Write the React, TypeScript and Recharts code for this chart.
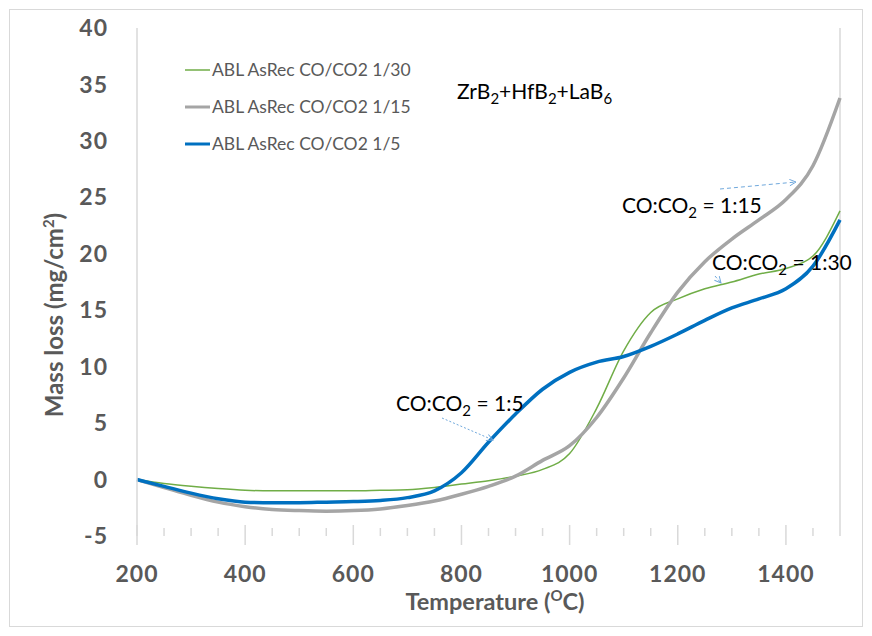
import { LineChart, Line, XAxis, YAxis, ReferenceLine } from "recharts";

// Temperature grid (°C) and mass loss (mg/cm²) for each CO:CO2 ratio
const temperatures = [
  200, 250, 300, 350, 400, 450, 500, 550, 600, 650, 700, 750, 800, 850, 900,
  950, 1000, 1050, 1100, 1150, 1200, 1250, 1300, 1350, 1400, 1450, 1500,
];
const lossRatio30 = [
  0, -0.35, -0.6, -0.8, -0.95, -1.0, -1.0, -1.0, -1.0, -0.95, -0.9, -0.7, -0.4,
  -0.1, 0.3, 0.9, 2.3, 6.3, 11.4, 14.8, 16.0, 16.9, 17.5, 18.2, 18.7, 19.8, 23.8,
];
const lossRatio15 = [
  0, -0.7, -1.4, -2.0, -2.4, -2.65, -2.75, -2.8, -2.75, -2.6, -2.3, -1.9, -1.3,
  -0.6, 0.3, 1.7, 3.0, 5.5, 9.0, 13.0, 16.6, 19.3, 21.3, 23.0, 24.8, 27.8, 33.8,
];
const lossRatio5 = [
  0, -0.6, -1.2, -1.7, -2.0, -2.05, -2.05, -2.0, -1.95, -1.85, -1.6, -1.0, 0.6,
  3.3, 5.8, 8.0, 9.5, 10.4, 10.9, 11.8, 12.9, 14.1, 15.2, 16.0, 16.9, 18.9, 23.0,
];
const seriesNames = [
  "ABL AsRec CO/CO2 1/30",
  "ABL AsRec CO/CO2 1/15",
  "ABL AsRec CO/CO2 1/5",
];
const xTicks = [
  200, 250, 300, 350, 400, 450, 500, 550, 600, 650, 700, 750, 800, 850, 900,
  950, 1000, 1050, 1100, 1150, 1200, 1250, 1300, 1350, 1400, 1450,
];
const yTicks = [-5, 0, 5, 10, 15, 20, 25, 30, 35, 40];

const data = temperatures.map((t, i) => ({
  t,
  r30: lossRatio30[i],
  r15: lossRatio15[i],
  r5: lossRatio5[i],
}));

const series = [
  { key: "r30", name: seriesNames[0], color: "#70AD47", width: 1.5 },
  { key: "r15", name: seriesNames[1], color: "#A5A5A5", width: 3.5 },
  { key: "r5", name: seriesNames[2], color: "#0070C0", width: 3.5 },
];

const FONT = "Lato, 'Open Sans', sans-serif";
const GREY = "#595959";
const RULE = "#D9D9D9";
const ARROW = "#6FA8DC";

// cross ticks: long ones with labels every 200, short ones every 50
function XTick(props: any) {
  const { x, y, payload } = props;
  const major = payload.value % 200 === 0;
  return (
    <g>
      <line
        x1={x}
        x2={x}
        y1={major ? y - 11 : y - 8}
        y2={major ? y + 9 : y}
        stroke={RULE}
        strokeWidth={1.5}
      />
      {major && (
        <text
          x={x}
          y={y + 46}
          textAnchor="middle"
          fill={GREY}
          fontFamily={FONT}
          fontWeight={700}
          fontSize={23}
          letterSpacing={1}
        >
          {payload.value}
        </text>
      )}
    </g>
  );
}

function Co2Label({ x, y, ratio }: { x: number; y: number; ratio: string }) {
  return (
    <text x={x} y={y} fontFamily={FONT} fontSize={21} fill="#000">
      CO:CO
      <tspan dy={5} fontSize={15}>
        2
      </tspan>
      <tspan dy={-5}> = {ratio}</tspan>
    </text>
  );
}

export default function App() {
  return (
    <div style={{ position: "relative", width: 856, height: 620, background: "#fff" }}>
      <LineChart
        width={856}
        height={620}
        data={data}
        margin={{ top: 20, right: 24, bottom: 0, left: 0 }}
      >
        <XAxis
          dataKey="t"
          type="number"
          domain={[200, 1500]}
          ticks={xTicks}
          interval={0}
          axisLine={false}
          tickLine={false}
          tickSize={0}
          tickMargin={0}
          height={92}
          tick={<XTick />}
        />
        <YAxis
          type="number"
          domain={[-5, 40]}
          ticks={yTicks}
          interval={0}
          width={129}
          axisLine={{ stroke: RULE, strokeWidth: 1.5 }}
          tickLine={false}
          tickSize={0}
          tickMargin={29}
          tick={{
            fill: GREY,
            fontFamily: FONT,
            fontWeight: 700,
            fontSize: 23,
            letterSpacing: 1,
          }}
        />
        <ReferenceLine x={1500} stroke={RULE} strokeWidth={1.5} />
        {series.map((s) => (
          <Line
            key={s.key}
            type="monotone"
            dataKey={s.key}
            name={s.name}
            stroke={s.color}
            strokeWidth={s.width}
            dot={false}
            isAnimationActive={false}
          />
        ))}
      </LineChart>

      <svg
        width={872}
        height={636}
        style={{ position: "absolute", left: -8, top: -8, pointerEvents: "none" }}
      >
        <defs>
          <marker
            id="head"
            viewBox="0 0 10 10"
            refX="9"
            refY="5"
            markerWidth="8"
            markerHeight="8"
            orient="auto"
          >
            <path d="M1,1 L9,5 L1,9" fill="none" stroke={ARROW} strokeWidth={1.2} />
          </marker>
        </defs>
        <rect x={9.5} y={9.5} width={853} height={617} fill="none" stroke={RULE} />

        {/* legend */}
        {series.map((s, i) => (
          <g key={s.key}>
            <line
              x1={185}
              x2={210}
              y1={70 + i * 37}
              y2={70 + i * 37}
              stroke={s.color}
              strokeWidth={s.width === 1.5 ? 1.5 : 3}
            />
            <text
              x={212}
              y={70 + i * 37}
              dy="0.35em"
              fontFamily={FONT}
              fontSize={17.5}
              fill={GREY}
            >
              {s.name}
            </text>
          </g>
        ))}

        {/* axis titles */}
        <text
          x={495}
          y={610}
          textAnchor="middle"
          fontFamily={FONT}
          fontWeight={700}
          fontSize={23.5}
          fill={GREY}
        >
          Temperature (
          <tspan dy={-9} fontSize={15}>
            O
          </tspan>
          <tspan dy={9}>C)</tspan>
        </text>
        <text
          transform="translate(63,315) rotate(-90)"
          textAnchor="middle"
          fontFamily={FONT}
          fontWeight={700}
          fontSize={24}
          fill={GREY}
        >
          Mass loss (mg/cm
          <tspan dy={-9} fontSize={15}>
            2
          </tspan>
          <tspan dy={9}>)</tspan>
        </text>

        {/* annotations */}
        <text x={457} y={99} fontFamily={FONT} fontSize={21} fill="#000">
          ZrB<tspan dy={5} fontSize={15}>2</tspan>
          <tspan dy={-5}>+HfB</tspan>
          <tspan dy={5} fontSize={15}>2</tspan>
          <tspan dy={-5}>+LaB</tspan>
          <tspan dy={5} fontSize={15}>6</tspan>
        </text>
        <Co2Label x={622} y={213} ratio="1:15" />
        <Co2Label x={712} y={270} ratio="1:30" />
        <Co2Label x={396} y={411} ratio="1:5" />

        <line x1={720} y1={189} x2={796} y2={182} stroke={ARROW} strokeDasharray="4 3" markerEnd="url(#head)" />
        <line x1={715} y1={276} x2={721} y2={283} stroke={ARROW} strokeDasharray="3 2" markerEnd="url(#head)" />
        <line x1={442} y1={418} x2={493} y2={440} stroke={ARROW} strokeDasharray="2 2" markerEnd="url(#head)" />
      </svg>
    </div>
  );
}
